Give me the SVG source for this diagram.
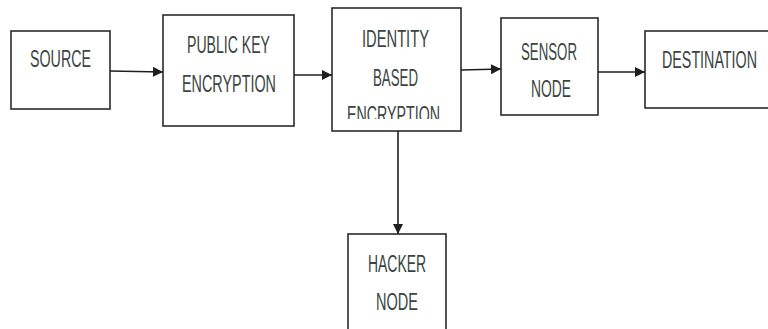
<svg xmlns="http://www.w3.org/2000/svg" width="768" height="329" viewBox="0 0 768 329">
<style>
.box{fill:#fff;stroke:#2b2b2b;stroke-width:1.6}
.t{font-family:"Liberation Sans Narrow","Liberation Sans",Arial,sans-serif;font-size:23px;fill:#3a4440}
.c{stroke:#1e1e1e;stroke-width:1.6;fill:none}
</style>
<defs>
<marker id="ah" viewBox="0 0 10 10" refX="10" refY="5" markerWidth="11" markerHeight="10" markerUnits="userSpaceOnUse" orient="auto">
<path d="M0,0 L10,5 L0,10 z" fill="#1e1e1e"/>
</marker>
<clipPath id="idclip"><rect x="332" y="8" width="129" height="111"/></clipPath>
</defs>
<rect width="768" height="329" fill="#fff"/>
<g id="source">
<rect class="box" x="11" y="31" width="99" height="78"/>
<text class="t" x="30" y="67" textLength="61" lengthAdjust="spacingAndGlyphs">SOURCE</text>
</g>
<g id="pke">
<rect class="box" x="163" y="15" width="131" height="111"/>
<text class="t" x="187" y="53" textLength="83" lengthAdjust="spacingAndGlyphs">PUBLIC KEY</text>
<text class="t" x="182" y="92" textLength="94" lengthAdjust="spacingAndGlyphs">ENCRYPTION</text>
</g>
<g id="ibe">
<rect class="box" x="332" y="8" width="129" height="123"/>
<text class="t" x="362" y="47" textLength="67" lengthAdjust="spacingAndGlyphs">IDENTITY</text>
<text class="t" x="373" y="86" textLength="45" lengthAdjust="spacingAndGlyphs">BASED</text>
<g clip-path="url(#idclip)"><text class="t" x="347" y="123" textLength="93" lengthAdjust="spacingAndGlyphs">ENCRYPTION</text></g>
</g>
<g id="sensor">
<rect class="box" x="501" y="18" width="97" height="97"/>
<text class="t" x="521" y="60" textLength="56" lengthAdjust="spacingAndGlyphs">SENSOR</text>
<text class="t" x="531" y="97" textLength="40" lengthAdjust="spacingAndGlyphs">NODE</text>
</g>
<g id="destination">
<rect class="box" x="645" y="31" width="130" height="77"/>
<text class="t" x="662" y="68" textLength="95" lengthAdjust="spacingAndGlyphs">DESTINATION</text>
</g>
<g id="hacker">
<rect class="box" x="348" y="234" width="98" height="100"/>
<text class="t" x="368" y="272" textLength="58" lengthAdjust="spacingAndGlyphs">HACKER</text>
<text class="t" x="376" y="310" textLength="42" lengthAdjust="spacingAndGlyphs">NODE</text>
</g>
<g id="connectors">
<line class="c" x1="110" y1="71" x2="163" y2="72" marker-end="url(#ah)"/>
<line class="c" x1="294" y1="75" x2="332" y2="75" marker-end="url(#ah)"/>
<line class="c" x1="461" y1="70" x2="501" y2="69" marker-end="url(#ah)"/>
<line class="c" x1="598" y1="72" x2="645" y2="72" marker-end="url(#ah)"/>
<line class="c" x1="398" y1="131" x2="398" y2="234" marker-end="url(#ah)"/>
</g>
</svg>
